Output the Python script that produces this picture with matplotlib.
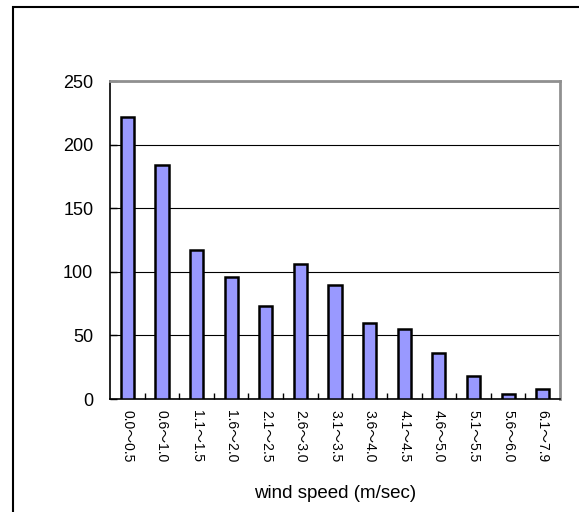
#!/usr/bin/env python3

import matplotlib.pyplot as plt
from matplotlib.patches import Rectangle
from matplotlib.ticker import MultipleLocator, FixedLocator

plt.rcParams['font.family'] = ['Liberation Sans', 'Noto Sans CJK JP', 'DejaVu Sans']

categories = ['0.0～0.5', '0.6～1.0', '1.1～1.5', '1.6～2.0', '2.1～2.5', '2.6～3.0',
              '3.1～3.5', '3.6～4.0', '4.1～4.5', '4.6～5.0', '5.1～5.5', '5.6～6.0',
              '6.1～7.9']
counts = [222, 184, 117, 96, 73, 106, 90, 60, 55, 36, 18, 4, 8]

fig = plt.figure(figsize=(5.79, 5.12), dpi=100)

# outer chart frame (runs off the right and bottom edge)
fig.patches.append(Rectangle((13 / 579, -0.1), 1.0, (512 - 7) / 512 + 0.1,
                             transform=fig.transFigure, fill=False,
                             edgecolor='black', linewidth=1.5))

ax = fig.add_axes([110 / 579, 113 / 512, 450 / 579, 318 / 512])

x = list(range(len(categories)))
ax.bar(x, counts, width=0.38, color='#9999FF', edgecolor='black', linewidth=1.8, zorder=3)

ax.set_xlim(-0.5, len(categories) - 0.5)
ax.set_ylim(0, 250)
ax.yaxis.set_major_locator(MultipleLocator(50))
ax.grid(axis='y', color='black', linewidth=0.8, zorder=0)

ax.set_xticks(x)
ax.set_xticklabels(categories, rotation=270, fontsize=10)
ax.tick_params(axis='x', length=0, pad=8)
ax.xaxis.set_minor_locator(FixedLocator([i + 0.5 for i in range(len(categories) - 1)]))
ax.tick_params(axis='x', which='minor', direction='in', length=4, width=1)
ax.tick_params(axis='y', direction='in', length=5, width=1, labelsize=13, pad=12)

for side in ['left', 'bottom']:
    ax.spines[side].set_color('black')
    ax.spines[side].set_linewidth(1.2)
for side in ['top', 'right']:
    ax.spines[side].set_color('#909090')
    ax.spines[side].set_linewidth(2)

ax.set_xlabel('wind speed (m/sec)', fontsize=13.5, labelpad=16)

fig.savefig('out.png', dpi=100)
